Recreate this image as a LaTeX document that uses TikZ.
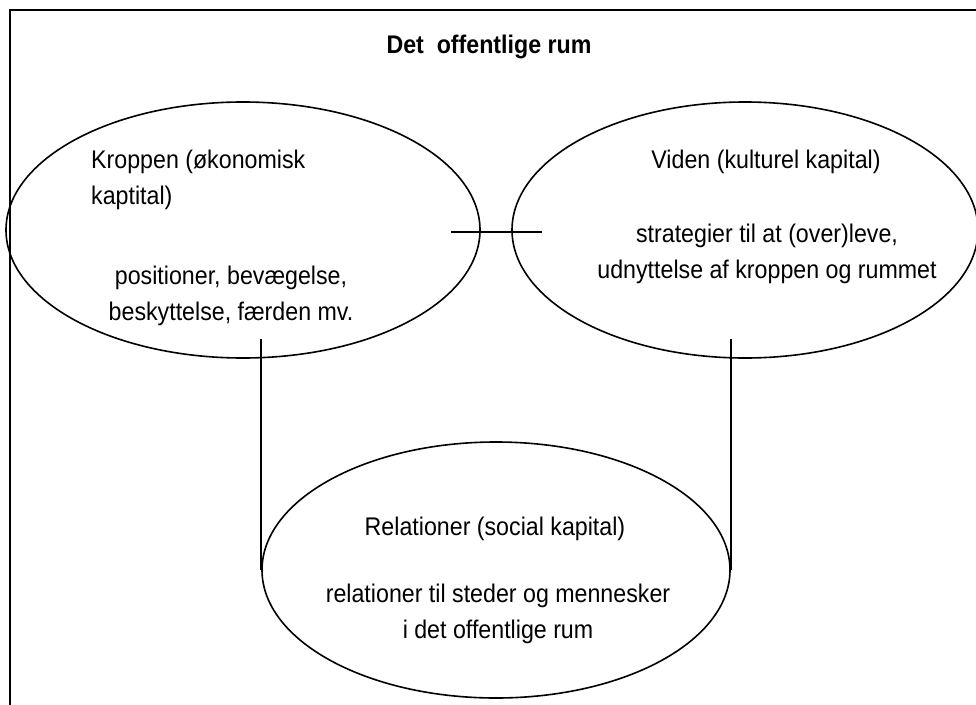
\documentclass[tikz,border=0pt]{standalone}
\usepackage{fontspec}
\setmainfont{Liberation Sans}[FakeStretch=0.91]
\usetikzlibrary{shapes.geometric,positioning}

\tikzset{
  kapital/.style={draw, ellipse, line width=1.6pt, inner sep=0pt},
  tekst/.style={inner sep=0pt, align=center, font=\fontsize{25.5}{36}\selectfont},
  streg/.style={line width=1.6pt}
}

\begin{document}
\begin{tikzpicture}[x=1pt, y=-1pt]
    \useasboundingbox (0,0) rectangle (976,704);

    % Draw the frame
    \draw[line width=2.2pt] (10,710) -- (10,10) -- (980,10);

    % Title
    \node[tekst, font=\fontsize{25.5}{36}\selectfont\bfseries] (titel) at (489,47) {Det\ \ offentlige rum};

    % Draw the three ellipses
    \node[kapital, minimum width=474pt, minimum height=256pt] (krop) at (243,230) {};
    \node[kapital, minimum width=466pt, minimum height=256pt] (viden) at (745,230) {};
    \node[kapital, minimum width=468pt, minimum height=256pt] (rel) at (496,570) {};

    % Texts in the ellipses
    \node[tekst, align=left, anchor=west] (kropA) at (91,180) {Kroppen (økonomisk\\kaptital)};
    \node[tekst] (kropB) at (231,296) {positioner, bevægelse,\\beskyttelse, færden mv.};
    \node[tekst] (videnA) at (766,162) {Viden (kulturel kapital)};
    \node[tekst] (videnB) at (767,254) {strategier til at (over)leve,\\udnyttelse af kroppen og rummet};
    \node[tekst] (relA) at (495,529) {Relationer (social kapital)};
    \node[tekst] (relB) at (498,614) {relationer til steder og mennesker\\i det offentlige rum};

    % Draw the connecting lines
    \draw[streg] ([xshift=-30pt, yshift=-2pt]krop.east) -- ([xshift=31pt, yshift=-2pt]viden.west);
    \draw[streg] (rel.west) -- ++(0,-231);
    \draw[streg] (rel.east) -- ++(0,-231);
\end{tikzpicture}
\end{document}
